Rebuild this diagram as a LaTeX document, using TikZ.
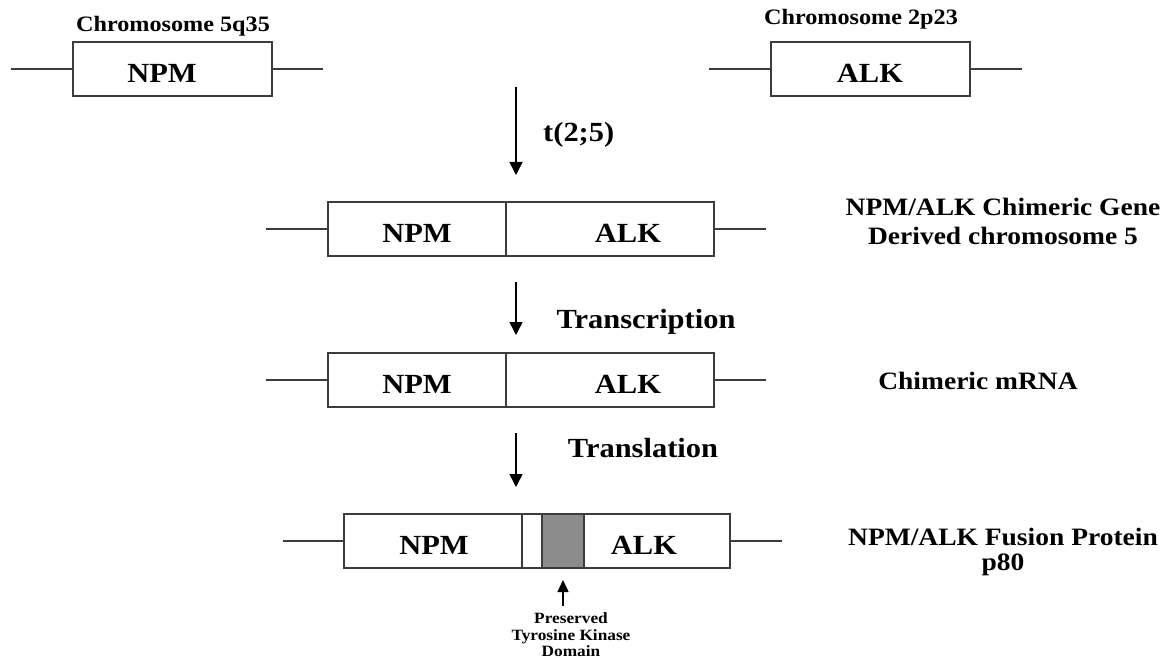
\documentclass[tikz,border=0pt]{standalone}
\usepackage{fontspec}
\setmainfont{Liberation Serif}[FakeStretch=1.1]
\usetikzlibrary{arrows.meta}
\definecolor{linegray}{RGB}{60,60,60}
\definecolor{domaingray}{RGB}{140,140,140}

\begin{document}
\begin{tikzpicture}[x=1pt,y=-1pt,
  seg/.style={draw=linegray,line width=1.5pt,minimum height=54pt,inner sep=0pt,outer sep=0pt,anchor=north west},
  chrom/.style={draw=linegray,line width=1.5pt},
  flow/.style={draw=black,line width=1.5pt,-{Triangle[width=13pt,length=13pt]}},
  upflow/.style={draw=black,line width=1.5pt,-{Triangle[width=11pt,length=12pt]}},
  big/.style={font=\fontsize{27.7}{31}\selectfont\bfseries,anchor=base,inner sep=0pt},
  side/.style={font=\fontsize{25}{29}\selectfont\bfseries,anchor=base,inner sep=0pt},
  chromlab/.style={font=\fontsize{22}{25}\selectfont\bfseries,anchor=base,inner sep=0pt},
  small/.style={font=\fontsize{15.7}{18}\selectfont\bfseries,anchor=base,inner sep=0pt}]
\useasboundingbox (0,0) rectangle (1169,660);

% --- normal chromosomes ---
\node[seg,minimum width=199pt] (npm) at (73,42) {};
\node[seg,minimum width=199pt] (alk) at (771,42) {};
\coordinate (npmL) at (11,69);  \coordinate (npmR) at (323,69);
\coordinate (alkL) at (709,69); \coordinate (alkR) at (1022,69);
\draw[chrom] (npmL) -- (npm.west);  \draw[chrom] (npm.east) -- (npmR);
\draw[chrom] (alkL) -- (alk.west);  \draw[chrom] (alk.east) -- (alkR);
\node[big] (npmtxt) at (162,82.5) {NPM};
\node[big] (alktxt) at (870,82.5) {ALK};
\node[chromlab] (loc5) at (173,32) {Chromosome 5q35};
\node[chromlab] (loc2) at (861,25) {Chromosome 2p23};

% --- translocation ---
\coordinate (a1s) at (516,87); \coordinate (a1e) at (516,175);
\draw[flow] (a1s) -- (a1e);
\node[big,anchor=base west] (t25) at (543,142) {t(2;5)};

% --- chimeric gene on derived chromosome 5 ---
\node[seg,minimum width=178pt] (gnpm) at (328,202) {};
\node[seg,minimum width=208pt] (galk) at (506,202) {};
\coordinate (gL) at (266,229); \coordinate (gR) at (766,229);
\draw[chrom] (gL) -- (gnpm.west); \draw[chrom] (galk.east) -- (gR);
\node[big] (gnpmtxt) at (417,242.5) {NPM};
\node[big] (galktxt) at (628,242.5) {ALK};
\node[side] (gene1) at (1003,216) {NPM/ALK Chimeric Gene};
\node[side] (gene2) at (1003,245) {Derived chromosome 5};

% --- transcription ---
\coordinate (a2s) at (516,282); \coordinate (a2e) at (516,335);
\draw[flow] (a2s) -- (a2e);
\node[big] (transc) at (646,328) {Transcription};

% --- chimeric mRNA ---
\node[seg,minimum width=178pt] (mnpm) at (328,353) {};
\node[seg,minimum width=208pt] (malk) at (506,353) {};
\coordinate (mL) at (266,380); \coordinate (mR) at (766,380);
\draw[chrom] (mL) -- (mnpm.west); \draw[chrom] (malk.east) -- (mR);
\node[big] (mnpmtxt) at (417,393.5) {NPM};
\node[big] (malktxt) at (628,393.5) {ALK};
\node[side] (mrna) at (978,389) {Chimeric mRNA};

% --- translation ---
\coordinate (a3s) at (516,433); \coordinate (a3e) at (516,487);
\draw[flow] (a3s) -- (a3e);
\node[big] (transl) at (643,457) {Translation};

% --- fusion protein ---
\node[seg,minimum width=178pt] (pnpm) at (344,514) {};
\node[seg,minimum width=20pt] (plink) at (522,514) {};
\node[seg,minimum width=42pt,fill=domaingray] (pdom) at (542,514) {};
\node[seg,minimum width=146pt] (palk) at (584,514) {};
\coordinate (pL) at (283,541); \coordinate (pR) at (782,541);
\draw[chrom] (pL) -- (pnpm.west); \draw[chrom] (palk.east) -- (pR);
\node[big] (pnpmtxt) at (434,554.5) {NPM};
\node[big] (palktxt) at (644,554.5) {ALK};
\node[side] (prot1) at (1003,545) {NPM/ALK Fusion Protein};
\node[side] (prot2) at (1003,570) {p80};

% --- kinase domain callout ---
\coordinate (ks) at (563,606); \coordinate (ke) at (563,580);
\draw[upflow] (ks) -- (ke);
\node[small] (kin1) at (571,623) {Preserved};
\node[small] (kin2) at (571,640.5) {Tyrosine Kinase};
\node[small] (kin3) at (571,656.5) {Domain};
\end{tikzpicture}
\end{document}
